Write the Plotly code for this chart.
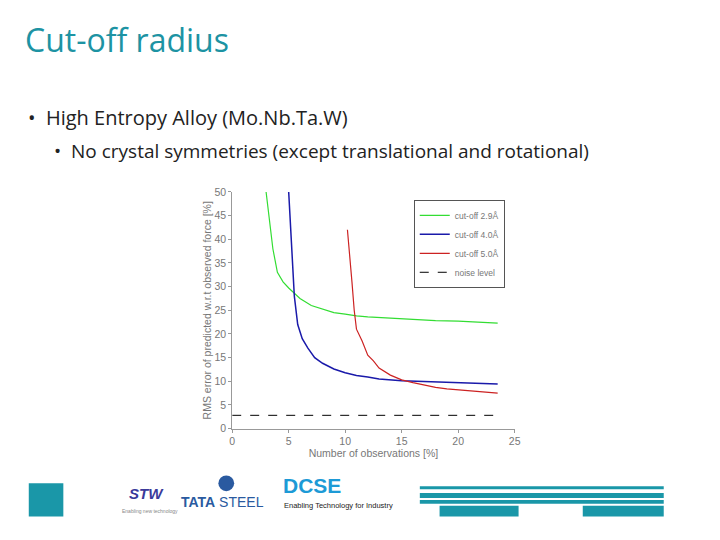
import plotly.graph_objects as go

green_x = [3.0,3.3,3.6,4.0,4.5,5,5.5,6,7,8,9,10,11,12,14,16,18,20,22,23.5]
green_y = [50,44,38,33,31,29.7,28.5,27.5,26,25.3,24.5,24.2,23.8,23.6,23.3,23,22.8,22.7,22.4,22.3]
blue_x = [5.0,5.1,5.2,5.3,5.5,5.8,6.2,6.7,7.3,8,9,10,11,12,13,15,17,19,21,23.5]
blue_y = [50,45,40,35,28,22,19,17,15,13.8,12.6,11.8,11.2,10.9,10.5,10.1,9.9,9.7,9.5,9.4]
red_x = [10.2,10.4,10.6,10.8,11,11.5,12,12.5,13,14,15,16,17,18,19,20,21,22,23.5]
red_y = [42,37,31,25,21,18.5,15.5,14.3,12.8,11.3,10.3,9.7,9.2,8.7,8.4,8.2,8,7.8,7.5]
noise_x = [0, 23.5]
noise_y = [2.8, 2.8]
x_ticks = [0, 5, 10, 15, 20, 25]
y_ticks = [0, 5, 10, 15, 20, 25, 30, 35, 40, 45, 50]

W, H = 720, 540
def px(x): return x / W
def py(y): return 1 - y / H

fig = go.Figure()
fig.add_trace(go.Scatter(x=green_x, y=green_y, mode="lines", name="cut-off 2.9Å", line=dict(color="#33dd33", width=1.2)))
fig.add_trace(go.Scatter(x=blue_x, y=blue_y, mode="lines", name="cut-off 4.0Å", line=dict(color="#1a1aaa", width=1.5)))
fig.add_trace(go.Scatter(x=red_x, y=red_y, mode="lines", name="cut-off 5.0Å", line=dict(color="#cc2222", width=1.2)))
fig.add_trace(go.Scatter(x=noise_x, y=noise_y, mode="lines", name="noise level", line=dict(color="black", width=1, dash="dash")))

axis_font = dict(family="Liberation Sans", size=10.5, color="#777")
fig.update_layout(
    width=W, height=H, margin=dict(l=0, r=0, t=0, b=0),
    paper_bgcolor="white", plot_bgcolor="white",
    xaxis=dict(domain=[px(224), px(510)], range=[0, 25], tickvals=x_ticks, showgrid=False, zeroline=False,
               showline=True, linecolor="#999", ticks="outside", ticklen=3, tickcolor="#999", tickfont=axis_font,
               title=dict(text="Number of observations [%]", font=axis_font, standoff=2)),
    yaxis=dict(domain=[py(424), py(182)], range=[0, 50], tickvals=y_ticks, showgrid=False, zeroline=False,
               showline=True, linecolor="#999", ticks="outside", ticklen=3, tickcolor="#999", tickfont=axis_font,
               title=dict(text="RMS error of predicted w.r.t observed force [%]", font=dict(family="Liberation Sans", size=10.5, color="#777"), standoff=0)),
    legend=dict(x=px(500), y=py(190), xanchor="right", yanchor="top", bgcolor="white", bordercolor="#555", borderwidth=1,
                font=dict(family="Liberation Sans", size=8.5, color="#777"), tracegroupgap=0, itemwidth=30),
    showlegend=True,
)

def note(text, x, y, size, color, family="Open Sans", xanchor="left"):
    fig.add_annotation(text=text, x=px(x), y=py(y), xref="paper", yref="paper", xanchor=xanchor, yanchor="middle",
                       showarrow=False, font=dict(family=family, size=size, color=color))

note("Cut-off radius", 12, 26, 32, "#1d93a3")
note("•  High Entropy Alloy (Mo.Nb.Ta.W)", 15, 106, 20, "#222")
note("•  No crystal symmetries (except translational and rotational)", 42, 140, 19, "#222")

teal = "#1a97a8"
fig.add_shape(type="rect", xref="paper", yref="paper", x0=px(18), x1=px(53), y0=py(514), y1=py(480), fillcolor=teal, line_width=0)
note("<i><b>STW</b></i>", 137, 490, 15, "#3a3a9a", "Liberation Sans", "center")
note("Enabling new technology", 141, 508, 5, "#888", "Liberation Sans", "center")
fig.add_shape(type="circle", xref="paper", yref="paper", x0=px(210), x1=px(226), y0=py(488), y1=py(472), fillcolor="#2a5aa0", line_width=0)
note("<b>TATA</b> STEEL", 170, 499, 14, "#2a5aa0", "Liberation Sans")
note("<b>DCSE</b>", 273, 482, 21, "#1d9ad6", "Liberation Sans")
note("Enabling Technology for Industry", 274, 503, 7.5, "#222", "Liberation Sans")
for y0, y1 in [(483, 486), (490, 495), (497, 501)]:
    fig.add_shape(type="rect", xref="paper", yref="paper", x0=px(414), x1=px(661), y0=py(y1), y1=py(y0), fillcolor=teal, line_width=0)
fig.add_shape(type="rect", xref="paper", yref="paper", x0=px(434), x1=px(514), y0=py(514), y1=py(503), fillcolor=teal, line_width=0)
fig.add_shape(type="rect", xref="paper", yref="paper", x0=px(579), x1=px(661), y0=py(514), y1=py(503), fillcolor=teal, line_width=0)

fig.write_html("out.html")
